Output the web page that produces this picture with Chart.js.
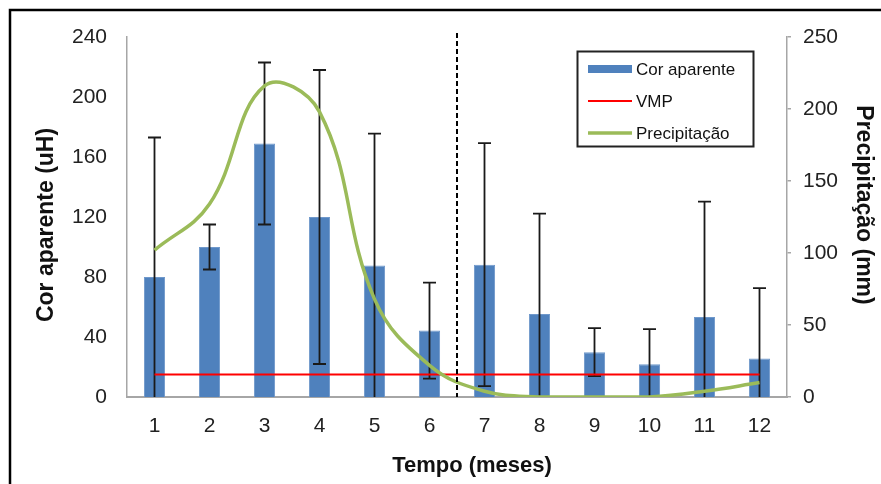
<!DOCTYPE html>
<html>
<head>
<meta charset="utf-8">
<script src="https://cdn.jsdelivr.net/npm/chart.js@4.4.1/dist/chart.umd.min.js"></script>
<style>
html,body{margin:0;padding:0;background:#fff;}
canvas{display:block;}
</style>
</head>
<body>
<canvas id="c" width="881" height="484"></canvas>
<script>
// ---- data ----
const meses = ['1','2','3','4','5','6','7','8','9','10','11','12'];
const corAparente = [80, 100, 169, 120, 87.6, 44.3, 88.2, 55.3, 29.9, 21.8, 53.3, 25.6];
const desvioCor = [93, 15, 54, 98, 88, 32, 81, 67, 16, 23.5, 77, 47];
const vmp = [15, 15, 15, 15, 15, 15, 15, 15, 15, 15, 15, 15];
const precipitacao = [102, 134, 216, 198, 68, 22, 4, 0, 0, 0, 4, 10];
const rotulos = ['Cor aparente', 'VMP', 'Precipitação'];
const tituloX = 'Tempo (meses)';
const tituloY = 'Cor aparente (uH)';
const tituloY1 = 'Precipitação (mm)';
const corMin = 0, corMax = 240, corPasso = 40;
const precMin = 0, precMax = 250, precPasso = 50;
const divisaoApos = 6; // dashed separator between month 6 and 7

const FONT = "'Liberation Sans', Arial, sans-serif";
const AXIS_GRAY = '#A6A6A6';

const framePlugin = {
  id: 'frame',
  beforeDraw(chart) {
    const ctx = chart.ctx;
    ctx.save();
    ctx.fillStyle = '#fff';
    ctx.fillRect(0, 0, chart.width, chart.height);
    ctx.strokeStyle = '#000';
    ctx.lineWidth = 2.5;
    ctx.beginPath();
    ctx.moveTo(10, chart.height);
    ctx.lineTo(10, 10);
    ctx.lineTo(chart.width, 10);
    ctx.stroke();
    ctx.restore();
  }
};

const errorBarPlugin = {
  id: 'errorBars',
  afterDatasetDraw(chart, args) {
    if (args.index !== 0) return;
    const meta = args.meta;
    const y = chart.scales.y;
    const ctx = chart.ctx;
    ctx.save();
    ctx.strokeStyle = '#1a1a1a';
    ctx.lineWidth = 1.8;
    const cap = 6.5;
    meta.data.forEach((bar, i) => {
      const v = corAparente[i], e = desvioCor[i];
      const hi = v + e;
      const lo = Math.max(corMin, v - e);
      const yHi = y.getPixelForValue(hi);
      const yLo = y.getPixelForValue(lo);
      ctx.beginPath();
      ctx.moveTo(bar.x, yLo);
      ctx.lineTo(bar.x, yHi);
      ctx.moveTo(bar.x - cap, yHi);
      ctx.lineTo(bar.x + cap, yHi);
      if (v - e > corMin) {
        ctx.moveTo(bar.x - cap, yLo);
        ctx.lineTo(bar.x + cap, yLo);
      }
      ctx.stroke();
    });
    ctx.restore();
  }
};

const dividerPlugin = {
  id: 'divider',
  afterDatasetsDraw(chart) {
    const xs = chart.scales.x;
    const area = chart.chartArea;
    const x = (xs.getPixelForValue(divisaoApos - 1) + xs.getPixelForValue(divisaoApos)) / 2;
    const ctx = chart.ctx;
    ctx.save();
    ctx.strokeStyle = '#000';
    ctx.lineWidth = 2;
    ctx.setLineDash([5, 3]);
    ctx.beginPath();
    ctx.moveTo(x, area.top - 4);
    ctx.lineTo(x, area.bottom);
    ctx.stroke();
    ctx.restore();
  }
};

const axisTitlePlugin = {
  id: 'axisTitles',
  afterDraw(chart) {
    const ctx = chart.ctx;
    const a = chart.chartArea;
    const midY = (a.top + a.bottom) / 2;
    const midX = (a.left + a.right) / 2;
    ctx.save();
    ctx.fillStyle = '#111';
    ctx.textAlign = 'center';
    ctx.textBaseline = 'middle';
    // bottom
    ctx.font = 'bold 22px ' + FONT;
    ctx.fillText(tituloX, midX + 15, a.bottom + 69);
    // left
    ctx.font = 'bold 23px ' + FONT;
    ctx.save();
    ctx.translate(a.left - 80, midY + 8);
    ctx.rotate(-Math.PI / 2);
    ctx.fillText(tituloY, 0, 0);
    ctx.restore();
    // right
    ctx.save();
    ctx.translate(a.right + 76, midY - 12);
    ctx.rotate(Math.PI / 2);
    ctx.fillText(tituloY1, 0, 0);
    ctx.restore();
    ctx.restore();
  }
};

const legendPlugin = {
  id: 'boxLegend',
  afterDraw(chart) {
    const ctx = chart.ctx;
    const ds = chart.data.datasets;
    const bx = 577.5, by = 51.5, bw = 176, bh = 95;
    ctx.save();
    ctx.fillStyle = '#fff';
    ctx.fillRect(bx, by, bw, bh);
    ctx.strokeStyle = '#222';
    ctx.lineWidth = 2;
    ctx.strokeRect(bx, by, bw, bh);
    const rows = [69, 101, 133];
    ctx.font = '17px ' + FONT;
    ctx.textBaseline = 'middle';
    ctx.textAlign = 'left';
    ds.forEach((d, i) => {
      const yy = rows[i];
      if (d.type === 'bar') {
        ctx.fillStyle = d.backgroundColor;
        ctx.fillRect(588, yy - 4, 44, 8);
      } else {
        ctx.strokeStyle = d.borderColor;
        ctx.lineWidth = d.borderWidth;
        ctx.beginPath();
        ctx.moveTo(588, yy);
        ctx.lineTo(632, yy);
        ctx.stroke();
      }
      ctx.fillStyle = '#111';
      ctx.fillText(d.label, 636, yy + 1);
    });
    ctx.restore();
  }
};

new Chart(document.getElementById('c'), {
  data: {
    labels: meses,
    datasets: [
      {
        type: 'bar',
        label: rotulos[0],
        data: corAparente,
        backgroundColor: '#4F81BD',
        borderColor: '#6F98CB',
        borderWidth: 1,
        barPercentage: 0.385,
        categoryPercentage: 1,
        yAxisID: 'y',
        order: 3
      },
      {
        type: 'line',
        label: rotulos[1],
        data: vmp,
        borderColor: '#FF0000',
        borderWidth: 2,
        pointRadius: 0,
        tension: 0,
        yAxisID: 'y',
        order: 2
      },
      {
        type: 'line',
        label: rotulos[2],
        data: precipitacao,
        borderColor: '#9BBB59',
        borderWidth: 3.5,
        pointRadius: 0,
        tension: 0.4,
        yAxisID: 'y1',
        order: 1
      }
    ]
  },
  options: {
    responsive: false,
    devicePixelRatio: 1,
    animation: false,
    events: [],
    layout: { padding: { top: 37, left: 0, right: 0, bottom: 0 } },
    plugins: {
      legend: { display: false },
      tooltip: { enabled: false },
      title: { display: false }
    },
    scales: {
      x: {
        type: 'category',
        offset: true,
        grid: { display: false, drawTicks: false },
        border: { display: true, color: AXIS_GRAY, width: 2 },
        ticks: { color: '#222', font: { size: 21, family: FONT }, padding: 17, maxRotation: 0, autoSkip: false },
        title: { display: false, text: tituloX },
        afterFit(s) { s.height = 87; }
      },
      y: {
        position: 'left',
        min: corMin, max: corMax,
        grid: { display: false, drawTicks: false },
        border: { display: true, color: AXIS_GRAY, width: 1.5 },
        ticks: { stepSize: corPasso, color: '#222', font: { size: 21, family: FONT }, padding: 20 },
        title: { display: false, text: tituloY },
        afterFit(s) { s.width = 127; }
      },
      y1: {
        position: 'right',
        min: precMin, max: precMax,
        grid: { display: true, drawOnChartArea: false, drawTicks: true, tickLength: 4, color: AXIS_GRAY, lineWidth: 1.5 },
        border: { display: true, color: AXIS_GRAY, width: 1.5 },
        ticks: { stepSize: precPasso, color: '#222', font: { size: 21, family: FONT }, padding: 12 },
        title: { display: false, text: tituloY1 },
        afterFit(s) { s.width = 94; }
      }
    }
  },
  plugins: [framePlugin, errorBarPlugin, dividerPlugin, axisTitlePlugin, legendPlugin]
});
</script>
</body>
</html>
